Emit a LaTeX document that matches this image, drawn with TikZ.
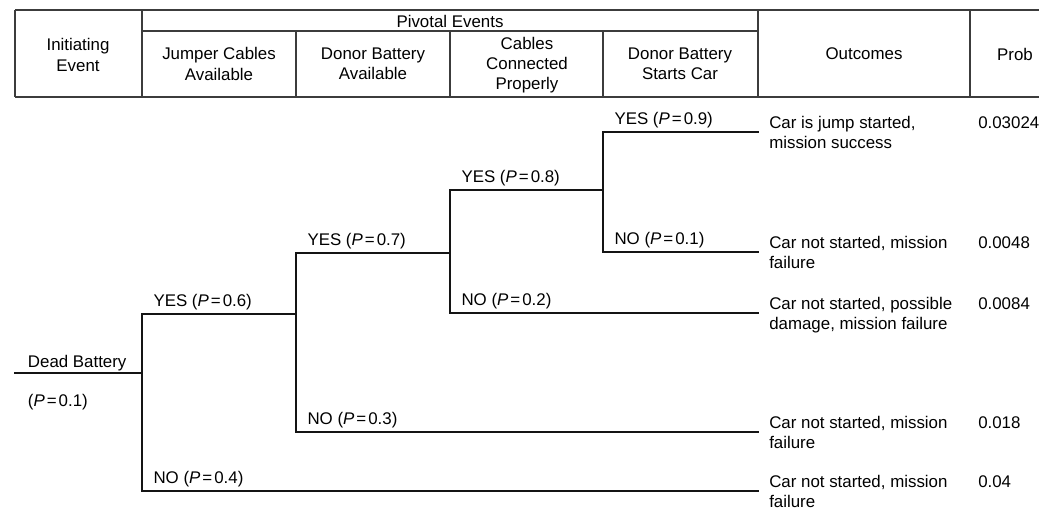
\documentclass[tikz,border=0pt]{standalone}
\usepackage{fontspec}
\setmainfont{Liberation Sans}
\usepackage{xcolor}
\definecolor{rejilla}{RGB}{60,60,60}
\definecolor{rama}{RGB}{20,20,20}
\usetikzlibrary{calc,positioning}
\newcommand{\prb}[1]{(\textit{P}\hspace{0.12em}=\hspace{0.12em}#1)}

\begin{document}
\begin{tikzpicture}[x=0.025cm,y=-0.025cm,
    arbol/.style={rama,line width=2pt,line cap=rect},
    tabla/.style={rejilla,line width=1pt},
    cab/.style={align=center,inner sep=0pt,font=\fontsize{12}{14.4}\selectfont},
    etq/.style={inner sep=0pt,font=\fontsize{12}{14.4}\selectfont},
    salida/.style={anchor=base west,align=left,inner sep=0pt,font=\fontsize{12}{14.2}\selectfont},
    prob/.style={anchor=base west,inner sep=0pt,font=\fontsize{12}{14.2}\selectfont}]
    \useasboundingbox (0,0) rectangle (1039,509);
    % cabecera
    \draw[rejilla,line width=1.7pt] (15,10) -- (1045,10);
    \draw[tabla] (15,97) -- (1045,97);
    \draw[tabla] (142,31) -- (758,31);
    \foreach \x in {15,142,758,970}{\draw[tabla] (\x,10) -- (\x,97);}
    \foreach \x in {296,450,603}{\draw[tabla] (\x,31) -- (\x,97);}
    \node[cab] (h0) at (78,55) {Initiating\\Event};
    \node[cab] (hp) at (450,21) {Pivotal Events};
    \node[cab] (h1) at (219,64) {Jumper Cables\\Available};
    \node[cab] (h2) at (373,64) {Donor Battery\\Available};
    \node[cab] (h3) at (527,65) {Cables\\Connected\\Properly};
    \node[cab] (h4) at (680,64) {Donor Battery\\Starts Car};
    \node[cab] (h5) at (864,54) {Outcomes};
    \node[cab] (h6) at (1015,54) {Prob};
    % nudos del arbol
    \coordinate (ini) at (15,373);
    \coordinate (j1) at (142,373);
    \coordinate (j1y) at (142,314);
    \coordinate (j1n) at (142,491);
    \coordinate (j2) at (296,314);
    \coordinate (j2y) at (296,253);
    \coordinate (j2n) at (296,432);
    \coordinate (j3) at (450,253);
    \coordinate (j3y) at (450,190);
    \coordinate (j3n) at (450,313);
    \coordinate (j4) at (603,190);
    \coordinate (j4y) at (603,132);
    \coordinate (j4n) at (603,252);
    \coordinate (f1) at (758,132);
    \coordinate (f2) at (758,252);
    \coordinate (f3) at (758,313);
    \coordinate (f4) at (758,432);
    \coordinate (f5) at (758,491);
    \coordinate (xp) at (978,0);
    % ramas
    \draw[arbol] (ini) -- (j1);
    \draw[arbol] (j1y) -- (j1n);
    \draw[arbol] (j1y) -- (j2);
    \draw[arbol] (j1n) -- (f5);
    \draw[arbol] (j2y) -- (j2n);
    \draw[arbol] (j2y) -- (j3);
    \draw[arbol] (j2n) -- (f4);
    \draw[arbol] (j3y) -- (j3n);
    \draw[arbol] (j3y) -- (j4);
    \draw[arbol] (j3n) -- (f3);
    \draw[arbol] (j4y) -- (j4n);
    \draw[arbol] (j4y) -- (f1);
    \draw[arbol] (j4n) -- (f2);
    % etiquetas
    \node[etq,above right=1.5pt and 9pt of ini] (db) {Dead Battery};
    \node[etq,below right=15pt and 9pt of ini] (dbp) {\prb{0.1}};
    \node[etq,above right=2.5pt and 8pt of j1y] (l1y) {YES \prb{0.6}};
    \node[etq,above right=2.5pt and 8pt of j1n] (l1n) {NO \prb{0.4}};
    \node[etq,above right=2.5pt and 8pt of j2y] (l2y) {YES \prb{0.7}};
    \node[etq,above right=2.5pt and 8pt of j2n] (l2n) {NO \prb{0.3}};
    \node[etq,above right=2.5pt and 8pt of j3y] (l3y) {YES \prb{0.8}};
    \node[etq,above right=2.5pt and 8pt of j3n] (l3n) {NO \prb{0.2}};
    \node[etq,above right=2.5pt and 8pt of j4y] (l4y) {YES \prb{0.9}};
    \node[etq,above right=2.5pt and 8pt of j4n] (l4n) {NO \prb{0.1}};
    % resultados (base de la primera linea)
    \foreach \i in {1,...,5}{\coordinate (b\i) at ($(f\i)+(11,-4)$);}
    \node[salida] (o1) at ($(b1)+(0,20)$) {Car is jump started,\\mission success};
    \node[salida] (o2) at ($(b2)+(0,20)$) {Car not started, mission\\failure};
    \node[salida] (o3) at ($(b3)+(0,20)$) {Car not started, possible\\damage, mission failure};
    \node[salida] (o4) at ($(b4)+(0,20)$) {Car not started, mission\\failure};
    \node[salida] (o5) at ($(b5)+(0,20)$) {Car not started, mission\\failure};
    \node[prob] (p1) at (b1 -| xp) {0.03024};
    \node[prob] (p2) at (b2 -| xp) {0.0048};
    \node[prob] (p3) at (b3 -| xp) {0.0084};
    \node[prob] (p4) at (b4 -| xp) {0.018};
    \node[prob] (p5) at (b5 -| xp) {0.04};
\end{tikzpicture}
\end{document}
